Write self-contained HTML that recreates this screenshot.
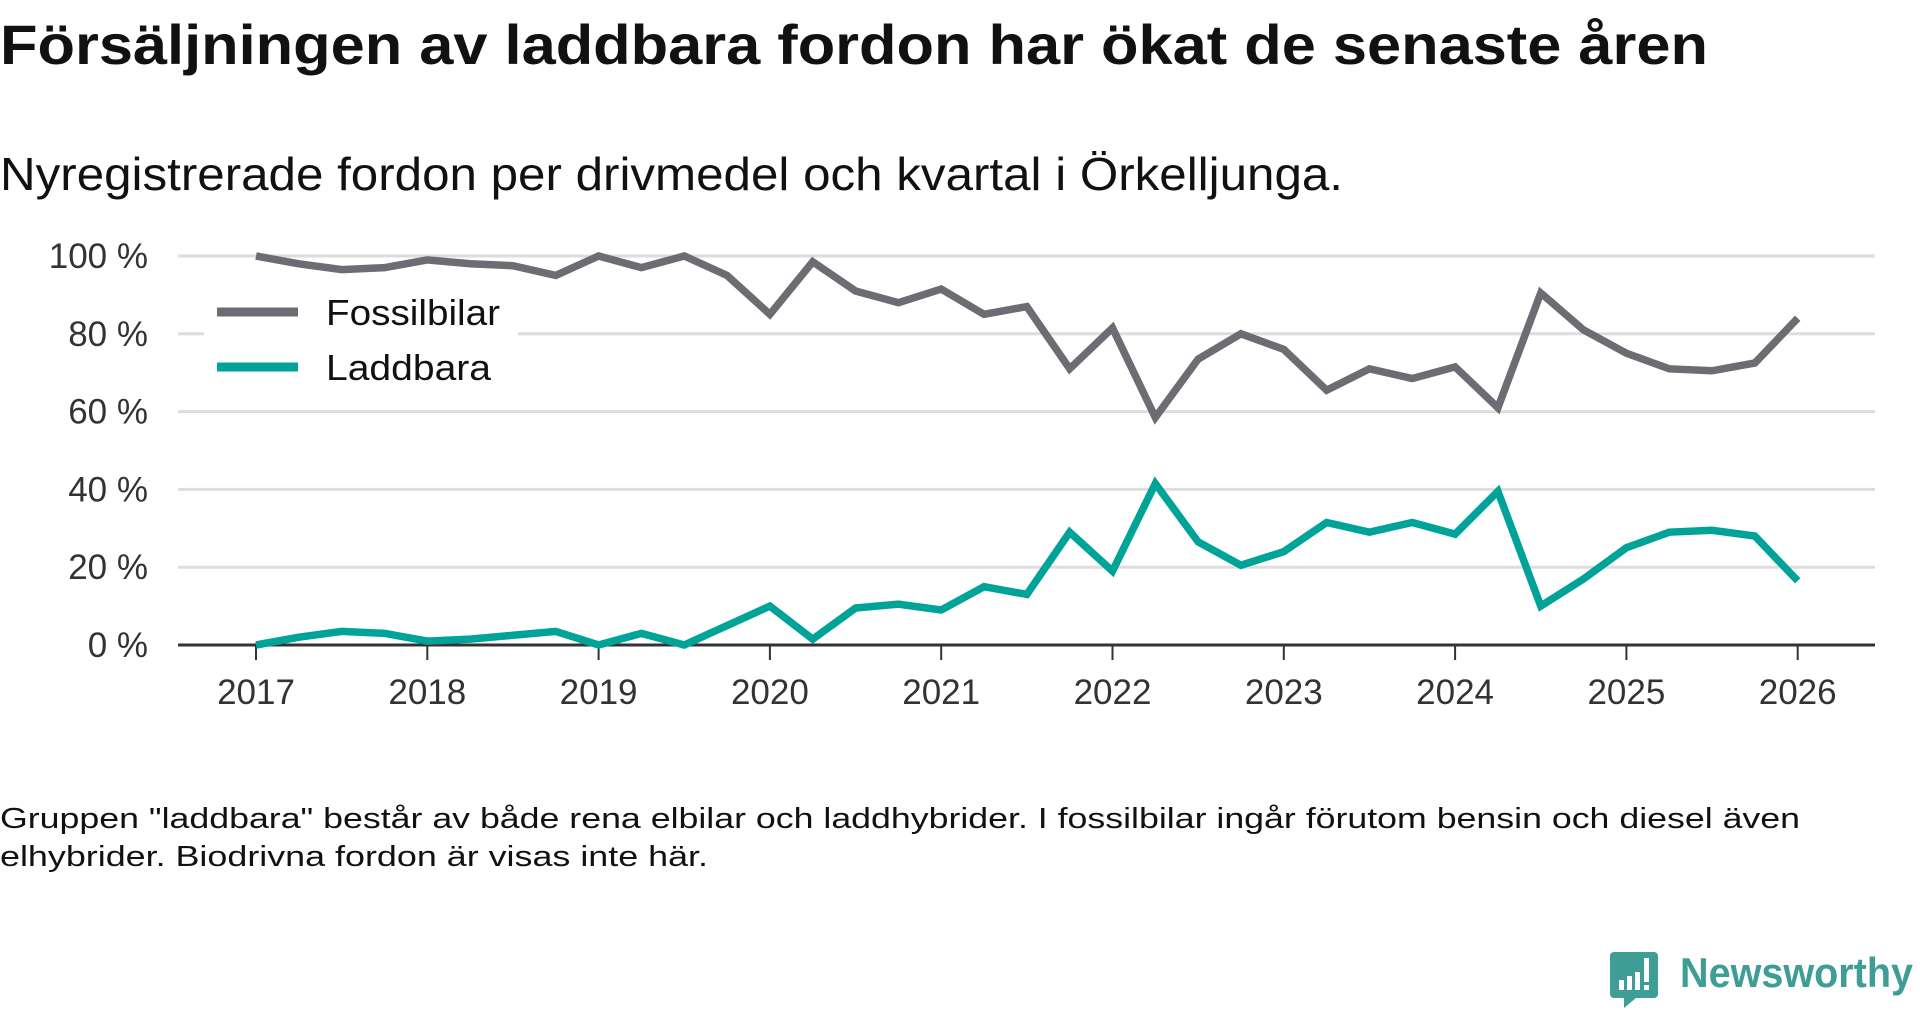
<!DOCTYPE html>
<html><head><meta charset="utf-8"><style>
html,body{margin:0;padding:0;background:#fff;}
svg{display:block;font-family:"Liberation Sans",sans-serif;}
</style></head><body>
<svg id="chart" width="1920" height="1010" viewBox="0 0 1920 1010">
<text x="0" y="64" font-size="56" font-weight="bold" fill="#111" textLength="1708" lengthAdjust="spacingAndGlyphs">Försäljningen av laddbara fordon har ökat de senaste åren</text>
<text x="0" y="190" font-size="46" fill="#111" textLength="1343" lengthAdjust="spacingAndGlyphs">Nyregistrerade fordon per drivmedel och kvartal i Örkelljunga.</text>
<g id="grid"></g>
<g id="yaxis"></g>
<g id="xaxis"></g>
<g id="series"></g>
<g>
<rect x="204" y="290" width="314" height="106" fill="#fff"/>
<g>
<line x1="217" y1="312" x2="298" y2="312" stroke="#6d6c72" stroke-width="9"/>
<text x="326" y="325" font-size="36" fill="#111" textLength="174" lengthAdjust="spacingAndGlyphs">Fossilbilar</text>
</g>
<g>
<line x1="217" y1="367" x2="298" y2="367" stroke="#00a398" stroke-width="9"/>
<text x="326" y="380" font-size="36" fill="#111" textLength="165" lengthAdjust="spacingAndGlyphs">Laddbara</text>
</g>
</g>
<text x="0" y="828" font-size="29" fill="#111" textLength="1800" lengthAdjust="spacingAndGlyphs">Gruppen "laddbara" består av både rena elbilar och laddhybrider. I fossilbilar ingår förutom bensin och diesel även</text>
<text x="0" y="866" font-size="29" fill="#111" textLength="708" lengthAdjust="spacingAndGlyphs">elhybrider. Biodrivna fordon är visas inte här.</text>
<g>
<path d="M1614 952 h40 a4 4 0 0 1 4 4 v38 a4 4 0 0 1 -4 4 h-18 l-12 10 v-10 h-10 a4 4 0 0 1 -4 -4 v-38 a4 4 0 0 1 4 -4z" fill="#3e9e96"/>
<rect x="1619" y="980" width="5" height="10" fill="#fff"/><rect x="1627" y="976" width="5" height="14" fill="#fff"/><rect x="1635" y="972" width="5" height="18" fill="#fff"/><rect x="1644" y="958" width="5" height="24" fill="#fff"/><rect x="1644" y="985" width="5" height="5" fill="#fff"/>
<text x="1680" y="987" font-size="42" font-weight="bold" fill="#3e9e96" textLength="233" lengthAdjust="spacingAndGlyphs">Newsworthy</text>
</g>
</svg>
<script>
const yTicks = [0, 20, 40, 60, 80, 100];
const yTickLabels = ["0 %", "20 %", "40 %", "60 %", "80 %", "100 %"];
const xYears = [2017, 2018, 2019, 2020, 2021, 2022, 2023, 2024, 2025, 2026];
const fossilbilar = [100,98,96.5,97,99,98,97.5,95,100,97,100,95,85,98.5,91,88,91.5,85,87,71,81.5,58.5,73.5,80,76,65.5,71,68.5,71.5,61,90.5,81,75,71,70.5,72.5,84];
const laddbara = [0,2,3.5,3,1,1.5,2.5,3.5,0,3,0,5,10,1.5,9.5,10.5,9,15,13,29,19,41.5,26.5,20.5,24,31.5,29,31.5,28.5,39.5,10,17,25,29,29.5,28,16.5];

const NS = "http://www.w3.org/2000/svg";
function xScale(t){ return 256 + (t - 2017) * 171.3; }
function yScale(v){ return 645 - v * 3.89; }
function mk(tag, attrs, parent){ const e = document.createElementNS(NS, tag); for (const k in attrs) e.setAttribute(k, attrs[k]); parent.appendChild(e); return e; }

const grid = document.getElementById('grid');
const yaxis = document.getElementById('yaxis');
yTicks.forEach((v, i) => {
  if (v > 0) {
    const l = mk('line', {x1:178, x2:1875, y1:yScale(v), y2:yScale(v), stroke:'#dddddd', 'stroke-width':3}, grid);
    
    
  }
  const t = mk('text', {x:148, y:yScale(v)+12, 'font-size':35, fill:'#333', 'text-anchor':'end'}, yaxis);
  t.textContent = yTickLabels[i];
  
  
});
const xaxis = document.getElementById('xaxis');
const base = mk('line', {x1:178, x2:1875, y1:645, y2:645, stroke:'#333', 'stroke-width':3}, xaxis);


xYears.forEach(yr => {
  const tk = mk('line', {x1:xScale(yr), x2:xScale(yr), y1:645, y2:660, stroke:'#333', 'stroke-width':2}, xaxis);
  
  
  const t = mk('text', {x:xScale(yr), y:704, 'font-size':35, fill:'#333', 'text-anchor':'middle'}, xaxis);
  t.textContent = yr;
  
  
});
const series = document.getElementById('series');
function drawLine(vals, color, name){
  const pts = vals.map((v, i) => xScale(2017 + i * 0.25) + ',' + yScale(v)).join(' ');
  const p = mk('polyline', {points:pts, fill:'none', stroke:color, 'stroke-width':7.5, 'stroke-linejoin':'miter'}, series);
  
  
}
drawLine(fossilbilar, '#6d6c72', 'line-fossilbilar');
drawLine(laddbara, '#00a398', 'line-laddbara');
</script>
</body></html>
